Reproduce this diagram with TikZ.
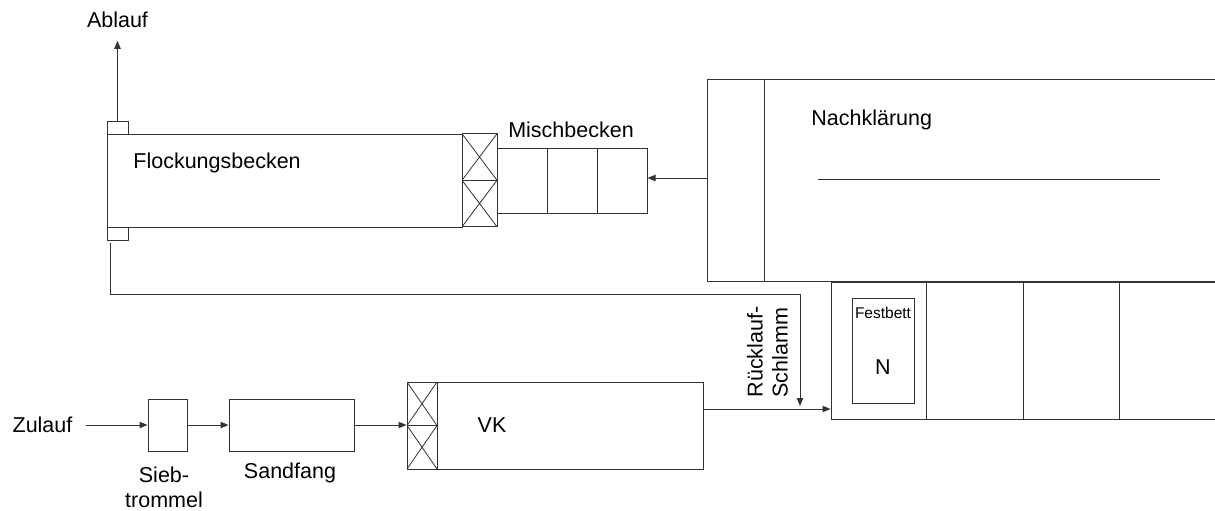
\documentclass[tikz,border=0pt]{standalone}
\usepackage{fontspec}
\setmainfont{Liberation Sans}
\usetikzlibrary{arrows.meta}

\begin{document}
\begin{tikzpicture}[
  x=0.5pt, y=-0.5pt,
  every node/.style={font=\fontsize{10.75}{12.5}\selectfont},
  box/.style={rectangle, draw=black!80, line width=0.5pt, inner sep=0pt},
  xbox/.style={box, path picture={\draw[black!80, line width=0.4pt]
      (path picture bounding box.north west) -- (path picture bounding box.south east)
      (path picture bounding box.south west) -- (path picture bounding box.north east);}},
  lbl/.style={inner sep=0pt, align=center},
  small/.style={lbl, font=\fontsize{7.75}{9}\selectfont},
  arrow/.style={-{Triangle[length=4pt, width=3.2pt]}, draw=black!80, line width=0.5pt}
]
\clip (0,0) rectangle (1215,510);
\fill[white] (0,0) rectangle (1215,510);

% Flockung mit Mischbecken
\node[box, minimum width=177.5pt, minimum height=46.5pt] (flock) at (284.5,180.5) {};
\node[lbl, anchor=west] at (133,163) {Flockungsbecken};
\node[box, minimum width=10.5pt, minimum height=6.5pt] (abbox) at (117.5,127.5) {};
\node[box, minimum width=10.5pt, minimum height=6.5pt] (rbbox) at (117.5,233.5) {};
\node[inner sep=6.5pt] (ablauf) at (117.5,19.5) {Ablauf};
\node[xbox, minimum width=17.5pt, minimum height=23.25pt] (fx1) at (479.5,157) {};
\node[xbox, minimum width=17.5pt, minimum height=23.25pt] (fx2) at (479.5,203.5) {};
\node[box, minimum width=25pt, minimum height=32.5pt] (m1) at (522,180.5) {};
\node[box, minimum width=25pt, minimum height=32.5pt] (m2) at (572,180.5) {};
\node[box, minimum width=25pt, minimum height=32.5pt] (m3) at (622,180.5) {};
\node[lbl] at (571,130) {Mischbecken};

% Nachklaerung
\node[box, minimum width=28.5pt, minimum height=101pt] (strip) at (735.5,180) {};
\node[box, minimum width=238pt, minimum height=101pt] (nach) at (1002,180) {};
\node[lbl, anchor=west] at (811,120) {Nachklärung};
\draw[black!80, line width=0.5pt] (818,179) -- (1160,179);

% Becken unten rechts
\node[box, minimum width=47.5pt, minimum height=68.5pt] (t1) at (878.5,350.5) {};
\node[box, minimum width=48.5pt, minimum height=68.5pt] (t2) at (974.5,350.5) {};
\node[box, minimum width=48pt, minimum height=68.5pt] (t3) at (1071,350.5) {};
\node[box, minimum width=60.5pt, minimum height=68.5pt] (t4) at (1179.5,350.5) {};
\node[box, minimum width=31pt, minimum height=52.5pt] (fb) at (883,350.5) {};
\node[small] at (883,313) {Festbett};
\node[lbl] at (883,367) {N};

% Zulauf
\node[inner sep=6.5pt] (zulauf) at (42.5,425) {Zulauf};
\node[box, minimum width=19.5pt, minimum height=26pt] (sieb) at (167.5,425) {};
\node[box, minimum width=62.5pt, minimum height=26pt] (sand) at (291.5,425) {};
\node[lbl] at (164,487) {Sieb-\\trommel};
\node[lbl] at (290,473) {Sandfang};
\node[xbox, minimum width=15pt, minimum height=21.75pt] (vkx1) at (422,403.75) {};
\node[xbox, minimum width=15pt, minimum height=21.75pt] (vkx2) at (422,447.25) {};
\node[box, minimum width=133pt, minimum height=43.5pt] (vk) at (570,425.5) {};
\node[lbl] at (492,425) {VK};
\node[lbl, align=left, rotate=90] at (767.5,352) {Rücklauf-\\Schlamm};

\coordinate (rsbend) at (800,294);
\coordinate (rsend) at (800,406);

\draw[arrow] (zulauf) -- (zulauf -| sieb.west);
\draw[arrow] (sieb) -- (sand);
\draw[arrow] (sand.east) -- (sand.east -| vkx1.west);
\draw[arrow] ([yshift=8.25pt]vk.east) -- ([yshift=8.25pt]vk.east -| t1.west);
\draw[arrow] ([yshift=1pt]strip.west) -- ([yshift=1pt]strip.west -| m3.east);
\draw[arrow] (abbox.north) -- (ablauf.south);
\draw[arrow] ([xshift=-3.75pt, yshift=-1pt]rbbox.south) |- (rsbend) -- (rsend);
\end{tikzpicture}
\end{document}
